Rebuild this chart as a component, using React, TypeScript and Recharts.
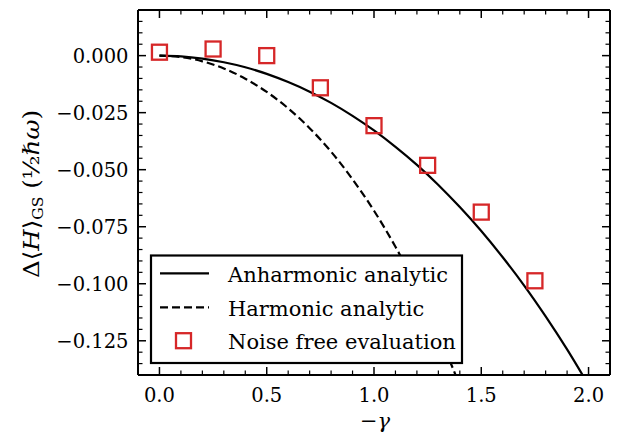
import React from 'react'
import { ComposedChart, Line, Scatter, XAxis, YAxis } from 'recharts'

// curves
const anharmonicGamma = [0, 0.1, 0.2, 0.3, 0.4, 0.5, 0.6, 0.7, 0.8, 0.9, 1.0, 1.1, 1.2, 1.3, 1.4, 1.5, 1.6, 1.7, 1.8, 1.9, 2.0]
const anharmonicValues = [0, -0.0003, -0.0013, -0.0029, -0.0051, -0.008, -0.0116, -0.0158, -0.0207, -0.0264, -0.0328, -0.04, -0.0479, -0.0567, -0.0664, -0.0769, -0.0884, -0.1008, -0.1143, -0.1288, -0.1444]

const harmonicGamma = [0, 0.1, 0.2, 0.3, 0.4, 0.5, 0.6, 0.7, 0.8, 0.9, 1.0, 1.1, 1.2, 1.3, 1.4]
const harmonicValues = [0, -0.0006, -0.0025, -0.0056, -0.0101, -0.0159, -0.0231, -0.0318, -0.0421, -0.0542, -0.068, -0.0838, -0.1017, -0.1219, -0.1446]

const noiseGamma = [0, 0.25, 0.5, 0.75, 1.0, 1.25, 1.5, 1.75]
const noiseValues = [0.0015, 0.0029, 0.0, -0.0141, -0.0307, -0.0481, -0.0686, -0.0987]

const xMajorTicks = [0, 0.5, 1.0, 1.5, 2.0]
const yMajorTicks = [0, -0.025, -0.05, -0.075, -0.1, -0.125]
const legendLabels = ['Anharmonic analytic', 'Harmonic analytic', 'Noise free evaluation']

const xDomain: [number, number] = [-0.1, 2.1]
const yDomain: [number, number] = [-0.14, 0.02]

const xMinorTicks = Array.from({ length: 23 }, (_, i) => +(-0.1 + i * 0.1).toFixed(3))
const yMinorTicks = Array.from({ length: 33 }, (_, i) => +(-0.14 + i * 0.005).toFixed(4))

const anharmonicData = anharmonicGamma.map((x, i) => ({ x, y: anharmonicValues[i] }))
const harmonicData = harmonicGamma.map((x, i) => ({ x, y: harmonicValues[i] }))
const noiseData = noiseGamma.map((x, i) => ({ x, y: noiseValues[i] }))

const W = 617
const H = 437
const PLOT = { left: 138, right: 610, top: 10, bottom: 375 }
const RED = '#d62728'
const FONT = '"DejaVu Serif", serif'

const isMajor = (v: number, majors: number[]) => majors.some(m => Math.abs(m - v) < 1e-6)

const fmtY = (v: number) => (Math.abs(v) < 1e-9 ? '0.000' : '\u2212' + Math.abs(v).toFixed(3))

const BottomTick = (props: any) => {
  const { x, payload } = props
  const major = isMajor(payload.value, xMajorTicks)
  return (
    <g>
      <line x1={x} x2={x} y1={PLOT.bottom} y2={PLOT.bottom - (major ? 8 : 4.5)} stroke="#000" strokeWidth={major ? 1.5 : 1.2} />
      {major && (
        <text x={x} y={401.5} textAnchor="middle" fontFamily={FONT} fontSize={19.5} fill="#000">
          {payload.value.toFixed(1)}
        </text>
      )}
    </g>
  )
}

const TopTick = (props: any) => {
  const { x, payload } = props
  const major = isMajor(payload.value, xMajorTicks)
  return <line x1={x} x2={x} y1={PLOT.top} y2={PLOT.top + (major ? 8 : 4.5)} stroke="#000" strokeWidth={major ? 1.5 : 1.2} />
}

const LeftTick = (props: any) => {
  const { y, payload } = props
  const major = isMajor(payload.value, yMajorTicks)
  return (
    <g>
      <line x1={PLOT.left} x2={PLOT.left + (major ? 8 : 4.5)} y1={y} y2={y} stroke="#000" strokeWidth={major ? 1.5 : 1.2} />
      {major && (
        <text x={128.5} y={y + 7} textAnchor="end" fontFamily={FONT} fontSize={19.5} fill="#000">
          {fmtY(payload.value)}
        </text>
      )}
    </g>
  )
}

const RightTick = (props: any) => {
  const { y, payload } = props
  const major = isMajor(payload.value, yMajorTicks)
  return <line x1={PLOT.right} x2={PLOT.right - (major ? 8 : 4.5)} y1={y} y2={y} stroke="#000" strokeWidth={major ? 1.5 : 1.2} />
}

const SquareMarker = (props: any) => {
  const { cx, cy } = props
  return <rect x={cx - 7.5} y={cy - 7.5} width={15} height={15} fill="none" stroke={RED} strokeWidth={2.3} />
}

const YLabel = () => (
  <text
    transform="translate(38.5,194) rotate(-90)"
    textAnchor="middle"
    fontFamily={FONT}
    fontSize={22}
    fill="#000"
    textLength={168}
    lengthAdjust="spacingAndGlyphs"
  >
    <tspan>Δ⟨</tspan>
    <tspan fontStyle="italic">H</tspan>
    <tspan>⟩</tspan>
    <tspan fontSize={14} dy={4}>GS</tspan>
    <tspan dy={-4}>{' ('}</tspan>
    <tspan>½</tspan>
    <tspan fontStyle="italic">ℏω</tspan>
    <tspan>)</tspan>
  </text>
)

const XLabel = () => (
  <text x={375} y={428} textAnchor="middle" fontFamily={FONT} fontSize={21} fill="#000">
    <tspan>−</tspan>
    <tspan fontStyle="italic">γ</tspan>
  </text>
)

function LegendBox() {
  const rows = [273.3, 307.3, 340.7]
  return (
    <svg width={W} height={H} style={{ position: 'absolute', left: 0, top: 0, pointerEvents: 'none' }}>
      <rect x={151} y={255.5} width={311} height={107.5} fill="#fff" stroke="#000" strokeWidth={2.2} />
      <line x1={160} x2={209} y1={rows[0]} y2={rows[0]} stroke="#000" strokeWidth={2.2} />
      <line x1={160} x2={209} y1={rows[1]} y2={rows[1]} stroke="#000" strokeWidth={2.2} strokeDasharray="8 4" />
      <rect x={176} y={rows[2] - 7.5} width={15} height={15} fill="none" stroke={RED} strokeWidth={2.3} />
      {legendLabels.map((t, i) => (
        <text key={t} x={228} y={rows[i] + 8.5} fontFamily={FONT} fontSize={21} fill="#000">
          {t}
        </text>
      ))}
    </svg>
  )
}

export default function App() {
  return (
    <div style={{ position: 'absolute', left: 0, top: 0, width: W, height: H, background: '#fff' }}>
      <ComposedChart width={W} height={H} margin={{ top: 0, right: 0, bottom: 0, left: 0 }}>
        <XAxis
          xAxisId={0}
          type="number"
          dataKey="x"
          domain={xDomain}
          allowDataOverflow
          ticks={xMinorTicks}
          interval={0}
          height={H - PLOT.bottom}
          tickLine={false}
          axisLine={{ stroke: '#000', strokeWidth: 2 }}
          tick={<BottomTick />}
          label={<XLabel />}
        />
        <XAxis
          xAxisId="top"
          orientation="top"
          type="number"
          dataKey="x"
          domain={xDomain}
          allowDataOverflow
          ticks={xMinorTicks}
          interval={0}
          height={PLOT.top}
          tickLine={false}
          axisLine={{ stroke: '#000', strokeWidth: 2 }}
          tick={<TopTick />}
        />
        <YAxis
          yAxisId={0}
          type="number"
          domain={yDomain}
          allowDataOverflow
          ticks={yMinorTicks}
          interval={0}
          width={PLOT.left}
          tickLine={false}
          axisLine={{ stroke: '#000', strokeWidth: 2 }}
          tick={<LeftTick />}
          label={<YLabel />}
        />
        <YAxis
          yAxisId="right"
          orientation="right"
          type="number"
          domain={yDomain}
          allowDataOverflow
          ticks={yMinorTicks}
          interval={0}
          width={W - PLOT.right}
          tickLine={false}
          axisLine={{ stroke: '#000', strokeWidth: 2 }}
          tick={<RightTick />}
        />
        <Line
          data={anharmonicData}
          dataKey="y"
          type="natural"
          stroke="#000"
          strokeWidth={2.2}
          dot={false}
          activeDot={false}
          isAnimationActive={false}
        />
        <Line
          data={harmonicData}
          dataKey="y"
          type="natural"
          stroke="#000"
          strokeWidth={2.2}
          strokeDasharray="8 4"
          dot={false}
          activeDot={false}
          isAnimationActive={false}
        />
        <Scatter data={noiseData} dataKey="y" shape={<SquareMarker />} isAnimationActive={false} />
      </ComposedChart>
      <LegendBox />
    </div>
  )
}
